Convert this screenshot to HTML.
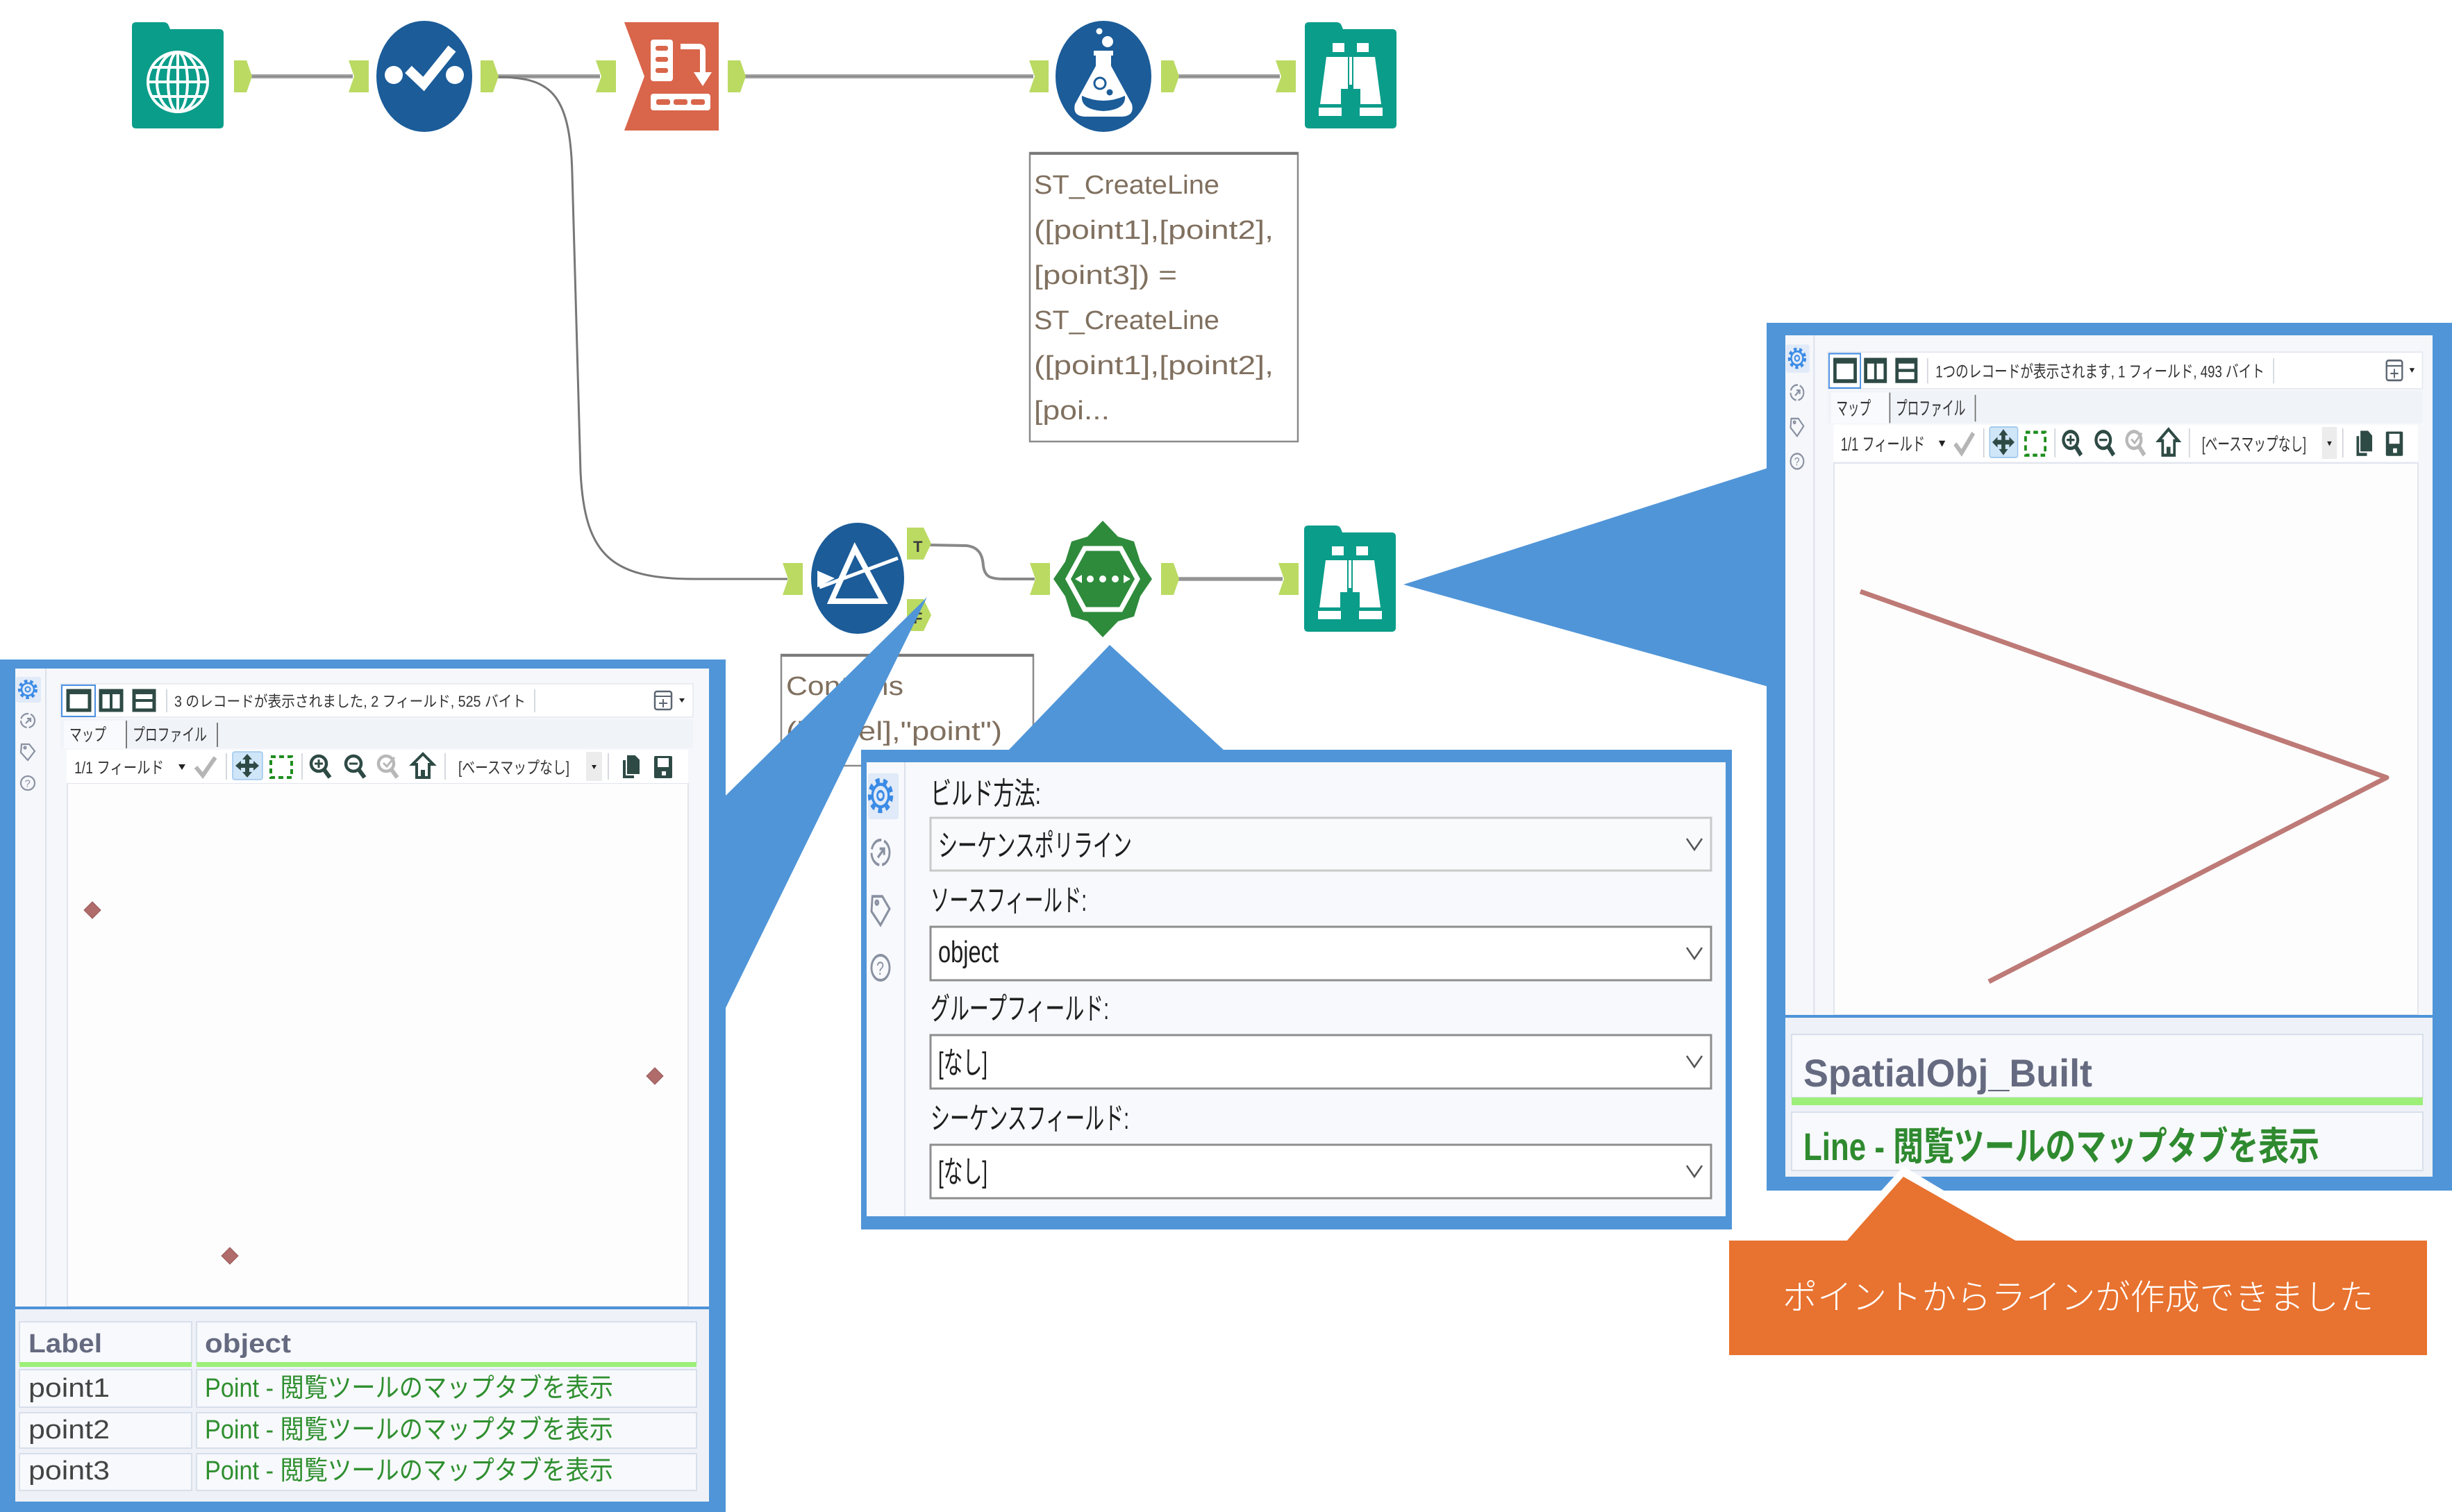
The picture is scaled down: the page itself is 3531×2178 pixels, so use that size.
<!DOCTYPE html>
<html><head><meta charset="utf-8">
<style>
html,body{margin:0;padding:0;background:#fff;}
svg{display:block;}
text{font-family:"Liberation Sans","Noto Sans CJK JP",sans-serif;}
</style></head>
<body>
<svg width="3531" height="2178" viewBox="0 0 3531 2178" xmlns="http://www.w3.org/2000/svg">
<defs>
  <path id="folder" d="M6,0 H46 Q51,0 53,5 L55,10 H126 Q132,10 132,16 V147 Q132,153 126,153 H6 Q0,153 0,147 V6 Q0,0 6,0 Z" fill="#0a9d8a"/>
  <g id="binoc" fill="#fff">
    <rect x="40" y="30" width="17" height="13"/>
    <rect x="75" y="30" width="17" height="13"/>
    <polygon points="31,50 62,50 62,96 52,96 52,118 22,118"/>
    <polygon points="101,50 70,50 70,96 80,96 80,118 110,118"/>
    <rect x="64" y="50" width="4" height="40"/>
    <rect x="20" y="123" width="33" height="12"/>
    <rect x="79" y="123" width="33" height="12"/>
  </g>
  <g id="gear">
    <circle r="12" fill="none" stroke="#3a8be6" stroke-width="4" stroke-dasharray="4.5 4"/>
    <circle r="9" fill="none" stroke="#3a8be6" stroke-width="2.5"/>
    <circle r="3.5" fill="none" stroke="#3a8be6" stroke-width="2"/>
  </g>
  <g id="nav" fill="none" stroke="#8a91a1" stroke-width="2.2">
    <circle r="10" stroke-dasharray="14 3"/>
    <path d="M-3,4 L4,-3 M-1,-3 H4 V2"/>
  </g>
  <g id="tag" fill="none" stroke="#8a91a1" stroke-width="2.2">
    <path d="M-9,-11 H2 L10,-1 L0,12 L-10,1 Z"/>
    <circle cx="-4" cy="-6" r="1.5"/>
  </g>
  <g id="help">
    <circle r="10" fill="none" stroke="#8a91a1" stroke-width="2.2"/>
    <text x="-4.5" y="5.5" font-size="15" fill="#8a91a1">?</text>
  </g>
  <!-- shared panel toolbar (local coords, left-panel scale) -->
  <g id="tbar">
    <line x1="44" y1="0" x2="44" y2="920" stroke="#dce1ea" stroke-width="2"/>
    <rect x="1" y="12" width="36" height="37" rx="3" fill="#e1eaf8"/>
    <use href="#gear" x="18" y="30"/>
    <use href="#nav" x="18" y="75"/>
    <use href="#tag" x="18" y="120"/>
    <use href="#help" x="18" y="165"/>
    <!-- row1 -->
    <rect x="65" y="22" width="911" height="48" fill="#fff" stroke="#e3e7ee" stroke-width="1.5"/>
    <rect x="67" y="24" width="48" height="45" fill="none" stroke="#4a90e2" stroke-width="2"/>
    <rect x="76" y="32" width="31" height="28" fill="none" stroke="#2e4a45" stroke-width="5"/>
    <rect x="74" y="30" width="35" height="7" fill="#2e4a45"/>
    <rect x="123" y="32" width="30" height="28" fill="none" stroke="#2e4a45" stroke-width="5"/>
    <rect x="121" y="30" width="34" height="7" fill="#2e4a45"/>
    <rect x="136" y="32" width="4" height="28" fill="#2e4a45"/>
    <rect x="171" y="32" width="29" height="28" fill="none" stroke="#2e4a45" stroke-width="5"/>
    <rect x="169" y="30" width="33" height="7" fill="#2e4a45"/>
    <rect x="171" y="44" width="29" height="4" fill="#2e4a45"/>
    <line x1="218" y1="30" x2="218" y2="63" stroke="#c8ccd4" stroke-width="1.5"/>
    <line x1="748" y1="30" x2="748" y2="63" stroke="#c8ccd4" stroke-width="1.5"/>
    <rect x="921" y="33" width="24" height="26" rx="3" fill="none" stroke="#5b6571" stroke-width="2.5"/>
    <line x1="921" y1="40" x2="945" y2="40" stroke="#5b6571" stroke-width="2"/>
    <path d="M933,44 V56 M927,50 H939" stroke="#5b6571" stroke-width="2"/>
    <polygon points="956,43 964,43 960,49" fill="#222"/>
    <!-- tabs -->
    <rect x="65" y="73" width="911" height="42" fill="#f0f3f8"/>
    <rect x="70" y="75" width="90" height="40" fill="#f8fafd"/>
    <line x1="160" y1="75" x2="160" y2="115" stroke="#6d6d6d" stroke-width="1.8"/>
    <line x1="291" y1="78" x2="291" y2="113" stroke="#6d6d6d" stroke-width="1.8"/>
    <text x="78" y="104" font-size="25" fill="#333" textLength="53" lengthAdjust="spacingAndGlyphs">マップ</text>
    <text x="169" y="104" font-size="25" fill="#333" textLength="107" lengthAdjust="spacingAndGlyphs">プロファイル</text>
    <!-- toolbar 2 -->
    <rect x="74" y="117" width="895" height="48" fill="#fff"/>
    <text x="85" y="151" font-size="24" fill="#333" textLength="129" lengthAdjust="spacingAndGlyphs">1/1 フィールド</text>
    <polygon points="235,138 245,138 240,146" fill="#222"/>
    <path d="M260,142 L270,154 L288,128" stroke="#b5b5b5" stroke-width="6" fill="none"/>
    <line x1="304" y1="122" x2="304" y2="160" stroke="#c8ccd4" stroke-width="1.5"/>
    <rect x="313" y="120" width="43" height="40" rx="3" fill="#cfe5f8" stroke="#9bc6ec" stroke-width="1.5"/>
    <g fill="#2e4a45">
      <polygon points="334,123 327,131 341,131"/>
      <polygon points="334,157 327,149 341,149"/>
      <polygon points="317,140 325,133 325,147"/>
      <polygon points="351,140 343,133 343,147"/>
      <rect x="331" y="129" width="6" height="22"/>
      <rect x="323" y="137" width="22" height="6"/>
    </g>
    <rect x="368" y="127" width="30" height="30" fill="none" stroke="#1d8d1d" stroke-width="4" stroke-dasharray="7 5"/>
    <line x1="413" y1="122" x2="413" y2="160" stroke="#c8ccd4" stroke-width="1.5"/>
    <g stroke="#2e4a45" fill="none">
      <circle cx="437" cy="137" r="11" stroke-width="4.5"/>
      <line x1="445" y1="146" x2="453" y2="157" stroke-width="6"/>
      <path d="M437,131 V143 M431,137 H443" stroke-width="3"/>
      <circle cx="487" cy="137" r="11" stroke-width="4.5"/>
      <line x1="495" y1="146" x2="503" y2="157" stroke-width="6"/>
      <path d="M481,137 H493" stroke-width="3"/>
    </g>
    <g stroke="#b8b8b8" fill="none">
      <circle cx="534" cy="137" r="11" stroke-width="4.5"/>
      <line x1="542" y1="146" x2="550" y2="157" stroke-width="6"/>
      <path d="M530,136 L535,141 L546,128" stroke-width="3"/>
    </g>
    <path d="M587,123 L572,138 H578 V157 H596 V138 H602 Z" fill="none" stroke="#2e4a45" stroke-width="4" stroke-linejoin="miter"/>
    <rect x="584" y="146" width="6" height="11" fill="#2e4a45"/>
    <line x1="619" y1="122" x2="619" y2="160" stroke="#c8ccd4" stroke-width="1.5"/>
    <text x="638" y="151" font-size="24" fill="#333" textLength="160" lengthAdjust="spacingAndGlyphs">[ベースマップなし]</text>
    <rect x="822" y="120" width="23" height="42" fill="#ececec"/>
    <polygon points="830,139 837,139 833.5,145" fill="#222"/>
    <line x1="854" y1="122" x2="854" y2="160" stroke="#c8ccd4" stroke-width="1.5"/>
    <rect x="875" y="132" width="16" height="26" fill="#2e4a45"/>
    <path d="M880,124 H893 L900,131 V153 H880 Z" fill="#2e4a45" stroke="#fff" stroke-width="2"/>
    <rect x="920" y="126" width="26" height="32" rx="2" fill="#2e4a45"/>
    <rect x="925" y="129" width="16" height="13" fill="#fff"/>
    <rect x="931" y="148" width="6" height="6" fill="#fff"/>
  </g>
</defs>

<rect x="0" y="0" width="3531" height="2178" fill="#fff"/>

<!-- ============ connectors ============ -->
<g stroke="#a4a4a4" stroke-width="6" fill="none">
  <line x1="360" y1="110" x2="508" y2="110"/>
  <line x1="714" y1="110" x2="864" y2="110"/>
  <line x1="1072" y1="110" x2="1488" y2="110"/>
  <line x1="1696" y1="110" x2="1843" y2="110"/>
  <line x1="1696" y1="834" x2="1847" y2="834"/>
</g>
<g stroke="#8c8c8c" stroke-width="2" fill="none">
  <line x1="360" y1="110" x2="508" y2="110"/>
  <line x1="714" y1="110" x2="864" y2="110"/>
  <line x1="1072" y1="110" x2="1488" y2="110"/>
  <line x1="1696" y1="110" x2="1843" y2="110"/>
  <line x1="1696" y1="834" x2="1847" y2="834"/>
</g>
<path d="M714,111 C790,111 821,130 824,250 L836,680 C842,800 880,834 1000,834 L1134,834" stroke="#777" stroke-width="3" fill="none"/>
<path d="M1338,785 L1392,786 C1410,788 1415,800 1416,815 C1418,830 1425,834 1445,834 L1490,834" stroke="#888" stroke-width="4" fill="none"/>

<!-- ============ connector tabs ============ -->
<g fill="#bada62">
  <polygon points="337,87 355,87 363,110 355,133 337,133"/>
  <polygon points="502,87 531,87 531,133 502,133 510,110"/>
  <polygon points="692,87 710,87 718,110 710,133 692,133"/>
  <polygon points="858,87 887,87 887,133 858,133 866,110"/>
  <polygon points="1048,87 1066,87 1074,110 1066,133 1048,133"/>
  <polygon points="1482,87 1510,87 1510,133 1482,133 1490,110"/>
  <polygon points="1672,87 1690,87 1698,110 1690,133 1672,133"/>
  <polygon points="1837,87 1866,87 1866,133 1837,133 1845,110"/>
  <polygon points="1127,811 1156,811 1156,857 1127,857 1135,834"/>
  <polygon points="1306,760 1330,760 1341,783 1330,806 1306,806"/>
  <polygon points="1306,863 1330,863 1341,886 1330,909 1306,909"/>
  <polygon points="1483,811 1512,811 1512,857 1483,857 1491,834"/>
  <polygon points="1672,811 1690,811 1698,834 1690,857 1672,857"/>
  <polygon points="1841,811 1870,811 1870,857 1841,857 1849,834"/>
</g>
<text x="1315" y="795" font-size="22" font-weight="bold" fill="#3c3c3c">T</text>
<text x="1315" y="898" font-size="22" font-weight="bold" fill="#3c3c3c">F</text>

<!-- ============ tools ============ -->
<!-- globe input -->
<use href="#folder" x="190" y="32"/>
<g stroke="#fff" stroke-width="4" fill="none">
  <circle cx="256" cy="118" r="43"/>
  <ellipse cx="256" cy="118" rx="14" ry="43"/>
  <ellipse cx="256" cy="118" rx="30" ry="43"/>
  <line x1="256" y1="75" x2="256" y2="161"/>
  <line x1="213" y1="118" x2="299" y2="118"/>
  <line x1="219" y1="97" x2="293" y2="97"/>
  <line x1="219" y1="139" x2="293" y2="139"/>
</g>
<!-- check / create points -->
<ellipse cx="611" cy="110" rx="69" ry="80" fill="#1b5c99"/>
<circle cx="567" cy="108" r="13" fill="#fff"/>
<circle cx="655" cy="108" r="13" fill="#fff"/>
<path d="M588,100 L610,121 L651,70" stroke="#fff" stroke-width="14" fill="none"/>
<!-- red transpose -->
<polygon points="899,32 1035,32 1035,188 899,188 928,110" fill="#d9654a"/>
<rect x="937" y="57" width="32" height="60" rx="4" fill="#fff"/>
<rect x="944" y="66" width="18" height="7" rx="3" fill="#d9654a"/>
<rect x="944" y="82" width="18" height="7" rx="3" fill="#d9654a"/>
<rect x="944" y="98" width="18" height="7" rx="3" fill="#d9654a"/>
<path d="M980,67 H1006 Q1012,67 1012,73 V108" stroke="#fff" stroke-width="8" fill="none"/>
<polygon points="999,104 1025,104 1012,124" fill="#fff"/>
<rect x="937" y="135" width="86" height="24" rx="4" fill="#fff"/>
<rect x="945" y="143" width="20" height="8" rx="3" fill="#d9654a"/>
<rect x="970" y="143" width="20" height="8" rx="3" fill="#d9654a"/>
<rect x="995" y="143" width="20" height="8" rx="3" fill="#d9654a"/>
<!-- flask / formula -->
<ellipse cx="1589" cy="110" rx="69" ry="80" fill="#1b5c99"/>
<path d="M1575,73 H1603 V80 H1600 V95 L1630,150 Q1634,167 1616,168 H1562 Q1544,167 1548,150 L1578,95 V80 H1575 Z" fill="#fff"/>
<path d="M1558,138 Q1589,152 1620,138 Q1622,158 1589,160 Q1556,158 1558,138 Z" fill="#1b5c99"/>
<circle cx="1584" cy="120" r="8" fill="none" stroke="#1b5c99" stroke-width="3"/>
<circle cx="1598" cy="133" r="4.5" fill="#1b5c99"/>
<circle cx="1583" cy="45" r="4.5" fill="#fff"/>
<circle cx="1595" cy="60" r="8" fill="#fff"/>
<!-- browse top -->
<use href="#folder" x="1879" y="32"/>
<use href="#binoc" x="1879" y="32"/>
<!-- spatial match / filter -->
<ellipse cx="1235" cy="833" rx="67" ry="80" fill="#1b5c99"/>
<polygon points="1231,790 1197,866 1272,866" fill="none" stroke="#fff" stroke-width="8"/>
<line x1="1180" y1="846" x2="1293" y2="804" stroke="#fff" stroke-width="5"/>
<polygon points="1177,822 1202,833 1177,846" fill="#fff"/>
<!-- poly-build -->
<polygon points="1588,750 1610,773 1633,780 1642,809 1659,834 1642,859 1633,888 1610,895 1588,918 1566,895 1543,888 1534,859 1517,834 1534,809 1543,780 1566,773" fill="#2e8b3b"/>
<polygon points="1562,790 1614,790 1638,834 1614,878 1562,878 1538,834" fill="#2e8b3b" stroke="#fff" stroke-width="7"/>
<circle cx="1570" cy="834" r="5" fill="#fff"/>
<circle cx="1588" cy="834" r="5" fill="#fff"/>
<circle cx="1606" cy="834" r="5" fill="#fff"/>
<polygon points="1548,834 1558,828 1558,840" fill="#fff"/>
<polygon points="1628,834 1618,828 1618,840" fill="#fff"/>
<!-- browse bottom -->
<use href="#folder" x="1878" y="757"/>
<use href="#binoc" x="1878" y="757"/>

<!-- ============ annotations ============ -->
<rect x="1483" y="220" width="386" height="416" fill="#fff" stroke="#8a8a8a" stroke-width="2.5"/>
<line x1="1483" y1="221" x2="1869" y2="221" stroke="#7a7a7a" stroke-width="4"/>
<g font-size="38" fill="#80705f">
  <text x="1489" y="279" textLength="267" lengthAdjust="spacingAndGlyphs">ST_CreateLine</text>
  <text x="1489" y="344" textLength="345" lengthAdjust="spacingAndGlyphs">([point1],[point2],</text>
  <text x="1489" y="409" textLength="206" lengthAdjust="spacingAndGlyphs">[point3]) =</text>
  <text x="1489" y="474" textLength="267" lengthAdjust="spacingAndGlyphs">ST_CreateLine</text>
  <text x="1489" y="539" textLength="345" lengthAdjust="spacingAndGlyphs">([point1],[point2],</text>
  <text x="1489" y="604" textLength="109" lengthAdjust="spacingAndGlyphs">[poi...</text>
</g>
<rect x="1125" y="943" width="363" height="160" fill="#fff" stroke="#8a8a8a" stroke-width="2.5"/>
<line x1="1125" y1="944" x2="1488" y2="944" stroke="#7a7a7a" stroke-width="4"/>
<g font-size="38" fill="#80705f">
  <text x="1132" y="1001" textLength="169" lengthAdjust="spacingAndGlyphs">Contains</text>
  <text x="1132" y="1066" textLength="311" lengthAdjust="spacingAndGlyphs">([Label],"point")</text>
</g>

<!-- ============ callout triangles ============ -->
<g fill="#5095d8">
  <polygon points="1040,1151 1335,860 1040,1462"/>
  <polygon points="1451,1082 1598,929 1764,1082"/>
  <polygon points="2546,674 2021,842 2546,989"/>
</g>

<!-- ============ left panel ============ -->
<rect x="0" y="950" width="1045" height="1228" fill="#5095d8"/>
<rect x="22" y="963" width="999" height="1200" fill="#f5f7fb"/>
<rect x="97" y="1128" width="894" height="754" fill="#fdfdfe" stroke="#e1e5ec" stroke-width="2"/>
<g transform="translate(22,963)">
  <use href="#tbar"/>
  <text x="229" y="55" font-size="22" fill="#333" textLength="506" lengthAdjust="spacingAndGlyphs">3 のレコードが表示されました, 2 フィールド, 525 バイト</text>
</g>
<g fill="#b06b6b" stroke="#9a5a5a" stroke-width="1">
  <polygon points="133,1299 145,1311 133,1323 121,1311"/>
  <polygon points="943,1538 955,1550 943,1562 931,1550"/>
  <polygon points="331,1797 343,1809 331,1821 319,1809"/>
</g>
<rect x="22" y="1882" width="999" height="4" fill="#4d93d9"/>
<rect x="22" y="1886" width="999" height="277" fill="#eef1f7"/>
<g fill="#f7f9fc" stroke="#d8dfeb" stroke-width="2">
  <rect x="28" y="1904" width="248" height="59"/>
  <rect x="283" y="1904" width="720" height="59"/>
  <rect x="28" y="1973" width="248" height="54"/>
  <rect x="283" y="1973" width="720" height="54"/>
  <rect x="28" y="2035" width="248" height="51"/>
  <rect x="283" y="2035" width="720" height="51"/>
  <rect x="28" y="2094" width="248" height="53"/>
  <rect x="283" y="2094" width="720" height="53"/>
</g>
<rect x="28" y="1962" width="248" height="7" fill="#9cef78"/>
<rect x="283" y="1962" width="720" height="7" fill="#9cef78"/>
<g font-size="38">
  <text x="41" y="1948" font-weight="bold" fill="#656a80" textLength="106" lengthAdjust="spacingAndGlyphs">Label</text>
  <text x="295" y="1948" font-weight="bold" fill="#656a80" textLength="124" lengthAdjust="spacingAndGlyphs">object</text>
  <text x="41" y="2012" fill="#444" textLength="117" lengthAdjust="spacingAndGlyphs">point1</text>
  <text x="41" y="2072" fill="#444" textLength="117" lengthAdjust="spacingAndGlyphs">point2</text>
  <text x="41" y="2131" fill="#444" textLength="117" lengthAdjust="spacingAndGlyphs">point3</text>
  <text x="295" y="2012" fill="#2f8f2f" textLength="588" lengthAdjust="spacingAndGlyphs">Point - 閲覧ツールのマップタブを表示</text>
  <text x="295" y="2072" fill="#2f8f2f" textLength="588" lengthAdjust="spacingAndGlyphs">Point - 閲覧ツールのマップタブを表示</text>
  <text x="295" y="2131" fill="#2f8f2f" textLength="588" lengthAdjust="spacingAndGlyphs">Point - 閲覧ツールのマップタブを表示</text>
</g>

<!-- ============ middle panel ============ -->
<rect x="1240" y="1080" width="1254" height="691" fill="#5095d8"/>
<rect x="1248" y="1098" width="1237" height="654" fill="#f7f9fc"/>
<line x1="1303" y1="1098" x2="1303" y2="1752" stroke="#dce1ea" stroke-width="2"/>
<rect x="1250" y="1114" width="44" height="66" rx="3" fill="#e1eaf8"/>
<use href="#gear" transform="translate(1268,1146) scale(1.3,1.8)"/>
<use href="#nav" transform="translate(1268,1228) scale(1.3,1.8)"/>
<use href="#tag" transform="translate(1268,1311) scale(1.3,1.8)"/>
<use href="#help" transform="translate(1268,1394) scale(1.3,1.8)"/>
<rect x="1340" y="1178" width="1124" height="76" fill="#f9fafc" stroke="#c9c9c9" stroke-width="3"/>
<rect x="1340" y="1335" width="1124" height="77" fill="#fff" stroke="#8e8e8e" stroke-width="3"/>
<rect x="1340" y="1491" width="1124" height="77" fill="#fff" stroke="#8e8e8e" stroke-width="3"/>
<rect x="1340" y="1649" width="1124" height="77" fill="#fff" stroke="#8e8e8e" stroke-width="3"/>
<g stroke="#555" stroke-width="2.5" fill="none">
  <path d="M2429,1208 L2440,1224 L2451,1208"/>
  <path d="M2429,1365 L2440,1381 L2451,1365"/>
  <path d="M2429,1521 L2440,1537 L2451,1521"/>
  <path d="M2429,1679 L2440,1695 L2451,1679"/>
</g>
<g font-size="44" fill="#1e1e1e">
  <text x="1340" y="1158" textLength="159" lengthAdjust="spacingAndGlyphs">ビルド方法:</text>
  <text x="1351" y="1233" textLength="279" lengthAdjust="spacingAndGlyphs">シーケンスポリライン</text>
  <text x="1340" y="1312" textLength="225" lengthAdjust="spacingAndGlyphs">ソースフィールド:</text>
  <text x="1351" y="1386" textLength="87" lengthAdjust="spacingAndGlyphs">object</text>
  <text x="1340" y="1468" textLength="257" lengthAdjust="spacingAndGlyphs">グループフィールド:</text>
  <text x="1351" y="1546" textLength="71" lengthAdjust="spacingAndGlyphs">[なし]</text>
  <text x="1340" y="1626" textLength="286" lengthAdjust="spacingAndGlyphs">シーケンスフィールド:</text>
  <text x="1351" y="1703" textLength="71" lengthAdjust="spacingAndGlyphs">[なし]</text>
</g>

<!-- ============ right panel ============ -->
<rect x="2544" y="465" width="987" height="1250" fill="#5095d8"/>
<rect x="2571" y="483" width="932" height="1212" fill="#f5f7fb"/>
<rect x="2641" y="667" width="841" height="795" fill="#fdfdfe" stroke="#e1e5ec" stroke-width="2"/>
<g transform="translate(2571,483) scale(0.94,1.1)">
  <use href="#tbar"/>
  <rect x="220" y="30" width="520" height="34" fill="#fff"/>
  <text x="230" y="55" font-size="22" fill="#333" textLength="504" lengthAdjust="spacingAndGlyphs">1つのレコードが表示されます, 1 フィールド, 493 バイト</text>
</g>
<rect x="2571" y="1462" width="932" height="233" fill="#eef1f7"/>
<polyline points="2679,852 3437,1120 2864,1414" fill="none" stroke="#bd7a76" stroke-width="7" stroke-linejoin="round"/>
<rect x="2571" y="1462" width="932" height="4" fill="#4d93d9"/>
<g fill="#f7f9fc" stroke="#d8dfeb" stroke-width="2">
  <rect x="2580" y="1490" width="909" height="91"/>
  <rect x="2580" y="1602" width="909" height="84"/>
</g>
<rect x="2580" y="1581" width="909" height="11" fill="#9cef78"/>
<text x="2597" y="1565" font-size="56" font-weight="bold" fill="#656a80" textLength="416" lengthAdjust="spacingAndGlyphs">SpatialObj_Built</text>
<text x="2597" y="1671" font-size="56" font-weight="bold" fill="#2f8a2f" textLength="743" lengthAdjust="spacingAndGlyphs">Line - 閲覧ツールのマップタブを表示</text>

<!-- ============ orange note ============ -->
<polygon points="2642,1789 2741,1680 2922,1789" fill="#fff"/>
<polygon points="2658,1789 2741,1695 2906,1789" fill="#e8722f"/>
<rect x="2490" y="1787" width="1005" height="165" fill="#e8722f"/>
<text x="2567" y="1886" font-size="50" font-weight="300" fill="#fff" textLength="851" lengthAdjust="spacingAndGlyphs">ポイントからラインが作成できました</text>
</svg>
</body>
</html>
